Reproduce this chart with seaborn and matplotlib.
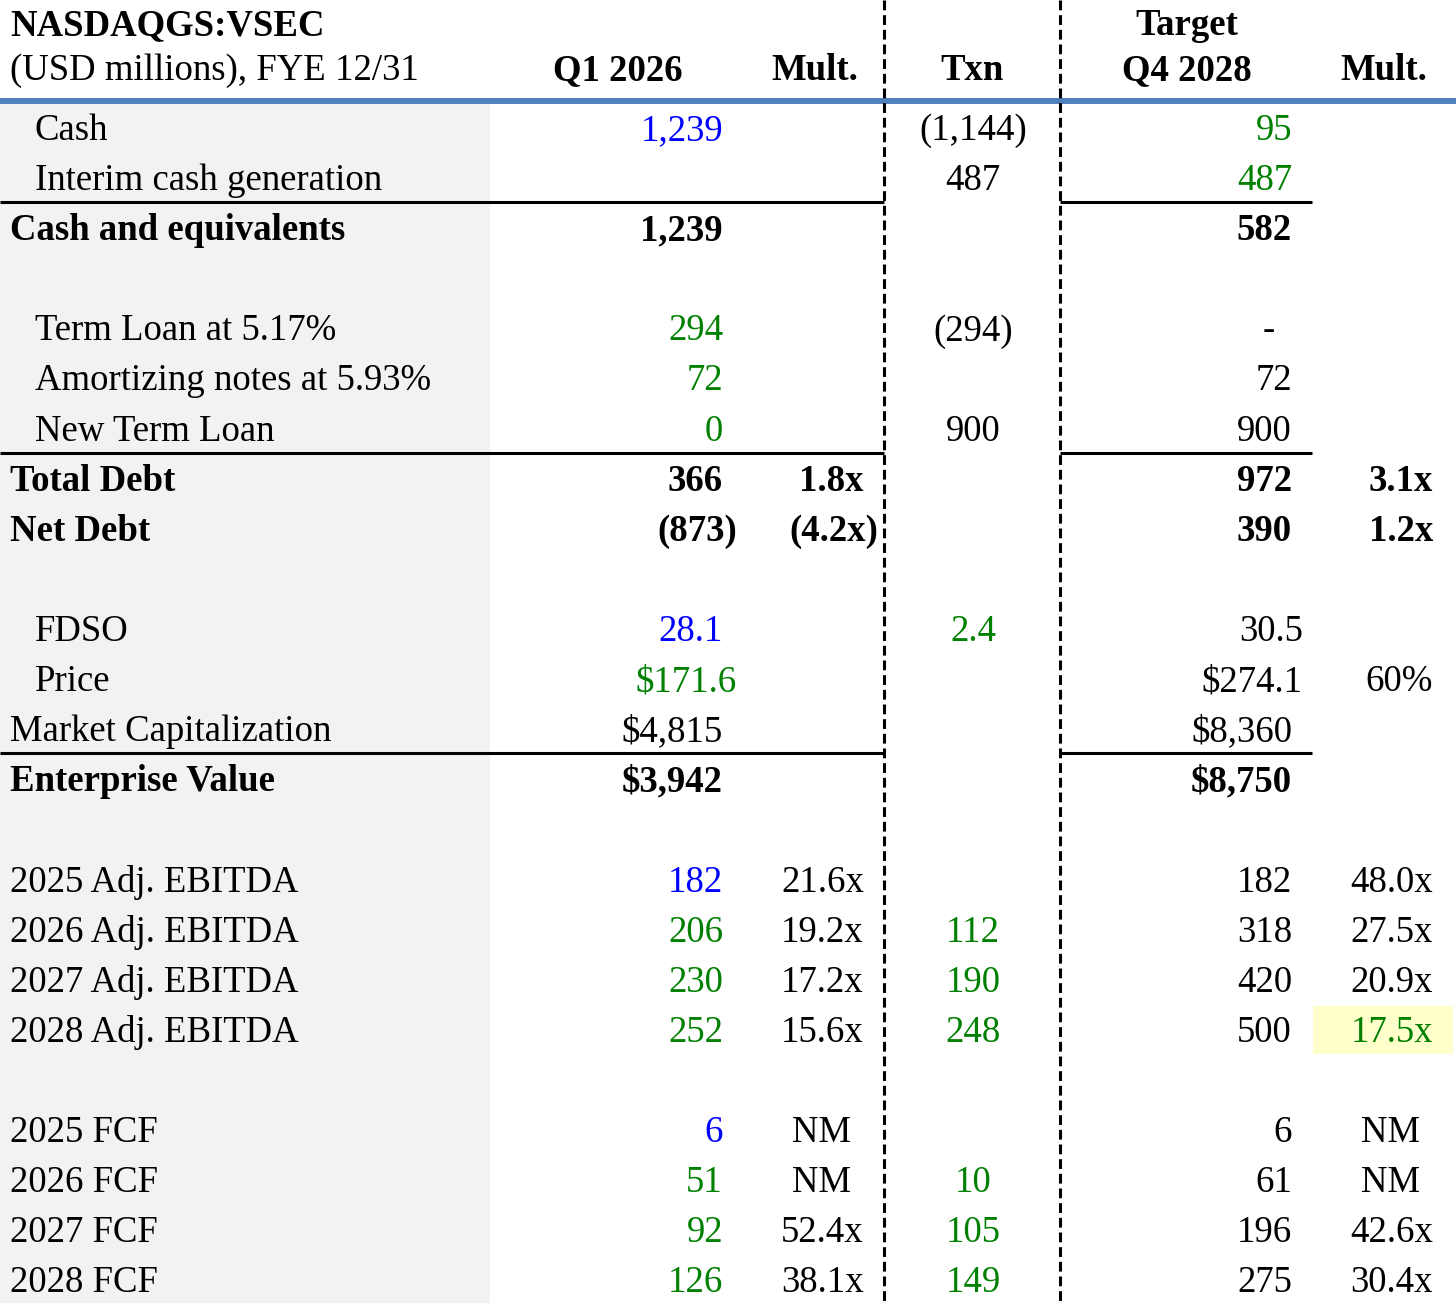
import matplotlib
matplotlib.use("Agg")
import matplotlib.pyplot as plt
from matplotlib.patches import Rectangle
import seaborn as sns

# ---- table data ----
title = "NASDAQGS:VSEC"
subtitle = "(USD millions), FYE 12/31"
col_headers = ["Q1 2026", "Mult.", "Txn", "Target\nQ4 2028", "Mult."]

labels = ["Cash", "Interim cash generation", "Cash and equivalents", "",
          "Term Loan at 5.17%", "Amortizing notes at 5.93%", "New Term Loan",
          "Total Debt", "Net Debt", "",
          "FDSO", "Price", "Market Capitalization", "Enterprise Value", "",
          "2025 Adj. EBITDA", "2026 Adj. EBITDA", "2027 Adj. EBITDA", "2028 Adj. EBITDA", "",
          "2025 FCF", "2026 FCF", "2027 FCF", "2028 FCF"]
indented = [0, 1, 4, 5, 6, 10, 11]
bold_rows = [2, 7, 8, 13]

q1_vals = ["1,239", "", "1,239", "", "294", "72", "0", "366", "(873)", "",
           "28.1", "$171.6", "$4,815", "$3,942", "",
           "182", "206", "230", "252", "", "6", "51", "92", "126"]
q1_colors = ["b", "k", "k", "k", "g", "g", "g", "k", "k", "k",
             "b", "g", "k", "k", "k", "b", "g", "g", "g", "k", "b", "g", "g", "g"]

q1_mult = ["", "", "", "", "", "", "", "1.8x", "(4.2x)", "",
           "", "", "", "", "", "21.6x", "19.2x", "17.2x", "15.6x", "",
           "NM", "NM", "52.4x", "38.1x"]

txn_vals = ["(1,144)", "487", "", "", "(294)", "", "900", "", "", "",
            "2.4", "", "", "", "", "", "112", "190", "248", "",
            "", "10", "105", "149"]
txn_colors = ["k", "k", "k", "k", "k", "k", "k", "k", "k", "k",
              "g", "k", "k", "k", "k", "k", "g", "g", "g", "k", "k", "g", "g", "g"]

tgt_vals = ["95", "487", "582", "", "-", "72", "900", "972", "390", "",
            "30.5", "$274.1", "$8,360", "$8,750", "",
            "182", "318", "420", "500", "", "6", "61", "196", "275"]
tgt_colors = ["g", "g"] + ["k"] * 22

tgt_mult = ["", "", "", "", "", "", "", "3.1x", "1.2x", "",
            "", "60%", "", "", "", "48.0x", "27.5x", "20.9x", "17.5x", "",
            "NM", "NM", "42.6x", "30.4x"]
tgt_mult_colors = ["k"] * 18 + ["g"] + ["k"] * 5
highlight_row = 18

# ---- style / layout ----
sns.set_theme(style="white")
plt.rcParams["font.family"] = ["Liberation Serif", "DejaVu Serif"]
plt.rcParams["text.color"] = "black"

palette = {"k": "black", "b": "#0000ff", "g": "#008000"}
FS = 26.5
ROW0 = 140      # baseline of first body row (px)
ROW_H = 50.1
PAD = 14        # space kept for ")" in accounting formats

fig = plt.figure(figsize=(14.56, 13.07), dpi=100)
ax = fig.add_axes([0, 0, 1, 1])
ax.set_xlim(0, 1456)
ax.set_ylim(1307, 0)
ax.axis("off")

def base(i):
    return ROW0 + ROW_H * i

# backgrounds
ax.add_patch(Rectangle((0, 104), 490, 1199, color="#f2f2f2", zorder=0, lw=0))
ax.add_patch(Rectangle((1313, base(highlight_row) - 36), 140, 48,
                       color="#ffffcc", zorder=0, lw=0))

# header
ax.text(10, 35, title, fontsize=FS, fontweight="bold", va="baseline")
ax.text(10, 80, subtitle, fontsize=FS, va="baseline")
hdr_x = [618, 815, 972, 1187, 1384]
for x, h in zip(hdr_x, col_headers):
    lines = h.split("\n")
    for k, line in enumerate(reversed(lines)):
        ax.text(x, 80 - 45 * k, line, fontsize=FS, fontweight="bold",
                ha="center", va="baseline")

ax.plot([0, 1456], [101, 101], color="#4f81bd", lw=4.3, solid_capstyle="butt")
ax.vlines([884, 1060], 0, 1303, colors="black", lw=2.2,
          linestyles=(0, (3.2, 1.6)))
for r in [1, 6, 12]:
    y = base(r) + 12
    ax.plot([0, 884], [y, y], color="black", lw=2.2, solid_capstyle="butt")
    ax.plot([1060, 1312], [y, y], color="black", lw=2.2, solid_capstyle="butt")

def num(y, s, color, weight, right, nm_center=None, extra=0):
    if not s:
        return
    if s == "NM" and nm_center is not None:
        ax.text(nm_center, y, s, fontsize=FS, color=palette[color],
                fontweight=weight, ha="center", va="baseline")
        return
    xr = right + (PAD if s.endswith(")") else 0) + extra
    ax.text(xr, y, s, fontsize=FS, color=palette[color], fontweight=weight,
            ha="right", va="baseline")

wide_q1 = {11: PAD}
wide_tgt = {10: 11, 11: 11}

for i, lab in enumerate(labels):
    y = base(i)
    w = "bold" if i in bold_rows else "normal"
    if lab:
        ax.text(35 if i in indented else 10, y, lab, fontsize=FS,
                fontweight=w, va="baseline", color="black")
    num(y, q1_vals[i], q1_colors[i], w, 723, extra=wide_q1.get(i, 0))
    num(y, q1_mult[i], "k", w, 864, nm_center=822)
    if txn_vals[i]:
        ax.text(973, y, txn_vals[i], fontsize=FS, color=palette[txn_colors[i]],
                fontweight=w, ha="center", va="baseline")
    if tgt_vals[i] == "-":
        ax.text(1269, y, "-", fontsize=FS, ha="center", va="baseline")
    else:
        num(y, tgt_vals[i], tgt_colors[i], w, 1292, extra=wide_tgt.get(i, 0))
    num(y, tgt_mult[i], tgt_mult_colors[i], w, 1433, nm_center=1391)

fig.savefig("out.png", dpi=100)
